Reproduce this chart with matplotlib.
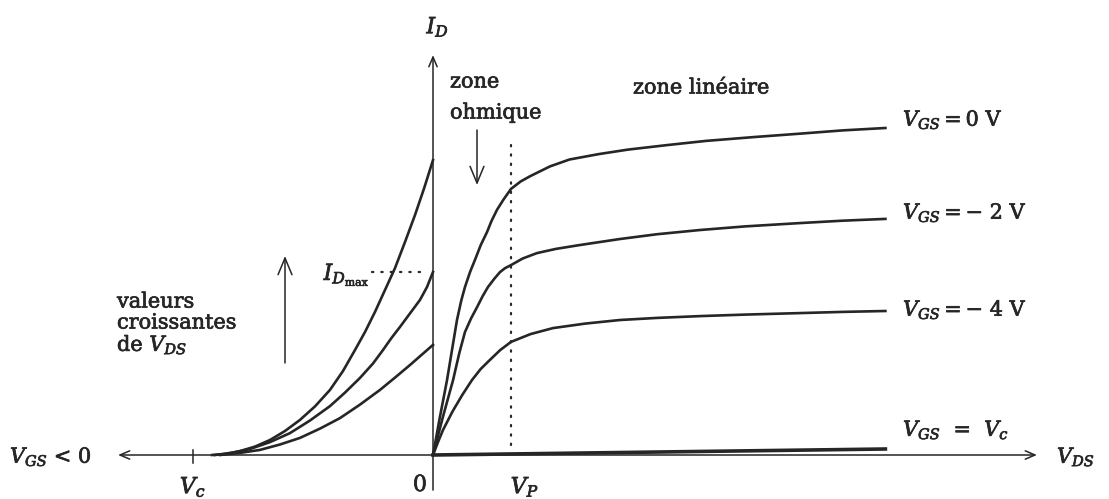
import matplotlib.pyplot as plt
from matplotlib.patches import FancyArrowPatch
import matplotlib.patheffects as pe

plt.rcParams['font.family'] = 'DejaVu Serif'
plt.rcParams['mathtext.fontset'] = 'dejavuserif'

INK = '#262626'
W, H = 1109, 499

# -----------------------------------------------------------
# Output characteristics I_D(V_DS) for each V_GS  (V, mA)
vds_0 = [0, 0.35, 0.72, 1.0, 1.23, 1.45, 1.64, 1.9, 2.15, 2.45, 2.77, 3.0, 3.28, 3.6, 4.0,
         4.5, 5.0, 6.0, 7.0, 8.5, 10.0, 12.0, 14.0, 16.5, 19.0, 21.0, 23.2]
id_0 = [0, 1.25, 2.5, 3.6, 4.5, 5.15, 5.6, 6.1, 6.5, 7.0, 7.43, 7.8, 8.17, 8.5, 8.87,
        9.12, 9.3, 9.62, 9.85, 10.03, 10.18, 10.33, 10.47, 10.6, 10.72, 10.82, 10.9]

vds_2 = [0, 0.5, 1.03, 1.35, 1.64, 1.95, 2.26, 2.55, 2.82, 3.15, 3.44, 3.7, 4.0, 4.6, 5.33,
         6.3, 7.54, 9.59, 11.5, 13.7, 16.0, 18.8, 21.0, 23.2]
id_2 = [0, 1.25, 2.5, 3.4, 4.1, 4.55, 4.93, 5.3, 5.6, 5.88, 6.1, 6.23, 6.33, 6.55, 6.73,
        6.87, 7.0, 7.2, 7.36, 7.5, 7.62, 7.73, 7.81, 7.87]

vds_4 = [0, 0.25, 0.51, 1.0, 1.5, 2.0, 2.45, 2.92, 3.45, 4.0, 5.0, 6.15, 7.8, 9.59, 11.5,
         13.7, 16.0, 18.8, 21.0, 23.2]
id_4 = [0, 0.42, 0.83, 1.45, 2.0, 2.5, 2.87, 3.17, 3.5, 3.77, 4.03, 4.23, 4.38, 4.5, 4.57,
        4.63, 4.68, 4.73, 4.77, 4.8]

vds_c = [0, 11.6, 23.2]
id_c = [0, 0.1, 0.2]

# Transfer characteristic I_D(V_GS) for increasing V_DS
vgs_a = [-5.525, -5.2, -4.825, -4.45, -4.075, -3.7, -3.325, -2.95, -2.575, -2.25, -1.95,
         -1.7, -1.45, -1.2, -0.95, -0.7, -0.45, -0.22, 0]
id_a = [0, 0.03, 0.13, 0.28, 0.5, 0.8, 1.17, 1.62, 2.17, 2.8, 3.5,
        4.1, 4.77, 5.5, 6.23, 7.1, 8.0, 8.9, 9.83]

vgs_b = [-5.45, -5.0, -4.575, -4.075, -3.575, -3.075, -2.575, -2.2, -1.825, -1.5, -1.25,
         -1.05, -0.825, -0.575, -0.325, -0.15, 0]
id_b = [0, 0.08, 0.2, 0.43, 0.73, 1.15, 1.63, 2.08, 2.57, 3.05, 3.5,
        3.88, 4.27, 4.72, 5.17, 5.6, 6.1]

vgs_c = [-5.325, -4.825, -4.325, -3.825, -3.325, -2.825, -2.325, -1.825, -1.325, -0.95,
         -0.575, -0.275, 0]
id_c2 = [0, 0.07, 0.17, 0.35, 0.57, 0.88, 1.23, 1.68, 2.17, 2.58,
         3.0, 3.35, 3.67]

V_C = -6.0
V_P = 4.0
ID_MAX = id_b[-1]

curve_labels = ['$V_{GS} = 0$ V', '$V_{GS} = -$ 2 V', '$V_{GS} = -$ 4 V',
                '$V_{GS}$  =  $V_c$']


def fig_xy(xp, yp):
    return xp / W, 1 - yp / H


# -----------------------------------------------------------
fig = plt.figure(figsize=(W / 100, H / 100), dpi=100)
fig.patch.set_facecolor('white')

# right half: V_DS scale, left half: V_GS scale, common I_D scale
x0 = 433
ax_r = fig.add_axes([0, 0, 1, 1])
ax_r.set_xlim(-x0 / 19.5, (W - x0) / 19.5)
ax_l = fig.add_axes([0, 0, 1, 1])
ax_l.set_xlim(-x0 / 40, (W - x0) / 40)
for ax in (ax_r, ax_l):
    ax.set_ylim(-(H - 455) / 30, 455 / 30)
    ax.axis('off')
    ax.patch.set_alpha(0)

# axes with arrows
ax_r.annotate('', xy=(30.97, 0), xytext=(-16.15, 0),
              arrowprops=dict(arrowstyle='<->,head_length=0.7,head_width=0.3',
                              color=INK, lw=1.1, shrinkA=0, shrinkB=0))
ax_r.annotate('', xy=(0, 13.33), xytext=(0, -1.17),
              arrowprops=dict(arrowstyle='->,head_length=0.7,head_width=0.3',
                              color=INK, lw=1.1, shrinkA=0, shrinkB=0))
ax_l.plot([V_C, V_C], [-0.27, 0.17], color=INK, lw=1.1)

# output curves
for vx, iy in [(vds_0, id_0), (vds_2, id_2), (vds_4, id_4)]:
    ax_r.plot(vx, iy, color=INK, lw=1.9, solid_joinstyle='round')
ax_r.plot(vds_c, id_c, color=INK, lw=2.6)

# transfer curves
for vx, iy in [(vgs_a, id_a), (vgs_b, id_b), (vgs_c, id_c2)]:
    ax_l.plot(vx, iy, color=INK, lw=1.9, solid_joinstyle='round')

# dotted guides
dots = dict(color=INK, lw=1.6, linestyle=(0, (0.6, 3.6)), dash_capstyle='round')
ax_r.plot([V_P, V_P], [0.33, 10.6], **dots)
ax_l.plot([-1.525, -0.15], [ID_MAX, ID_MAX], **dots)

# text, slightly thickened like printed ink
ink = [pe.withStroke(linewidth=0.5, foreground=INK)]
txt = dict(color=INK, fontsize=15, va='center', ha='left', path_effects=ink)
ctr = dict(color=INK, fontsize=16, va='center', ha='center', path_effects=ink)
for lab, yp in zip(curve_labels, [120, 213, 310, 430]):
    fig.text(*fig_xy(903, yp), lab, **txt)

fig.text(*fig_xy(438, 27), '$I_D$', **ctr)
fig.text(*fig_xy(1057, 457), '$V_{DS}$', **txt)
fig.text(*fig_xy(10, 457), '$V_{GS}$ < 0', **txt)
fig.text(*fig_xy(420, 485), '0', **ctr)
fig.text(*fig_xy(193, 487), '$V_c$', **ctr)
fig.text(*fig_xy(525, 487), '$V_P$', **ctr)
fig.text(*fig_xy(370, 275), r'$I_{D_{\mathrm{max}}}$', color=INK, fontsize=16,
         ha='right', va='center', path_effects=ink)

fig.text(*fig_xy(633, 88), 'zone linéaire', **txt)
fig.text(*fig_xy(450, 82), 'zone', **txt)
fig.text(*fig_xy(450, 113), 'ohmique', **txt)
fig.text(*fig_xy(117, 302), 'valeurs', **txt)
fig.text(*fig_xy(117, 323), 'croissantes', **txt)
fig.text(*fig_xy(117, 345), 'de $V_{DS}$', **txt)

# annotation arrows
arr = dict(arrowstyle='->,head_length=0.6,head_width=0.25', color=INK, lw=1.1,
           shrinkA=0, shrinkB=0, transform=fig.transFigure, mutation_scale=20)
fig.add_artist(FancyArrowPatch(fig_xy(477, 130), fig_xy(477, 185), **arr))
fig.add_artist(FancyArrowPatch(fig_xy(285, 363), fig_xy(285, 256), **arr))

fig.savefig('out.png', dpi=100, facecolor='white')
